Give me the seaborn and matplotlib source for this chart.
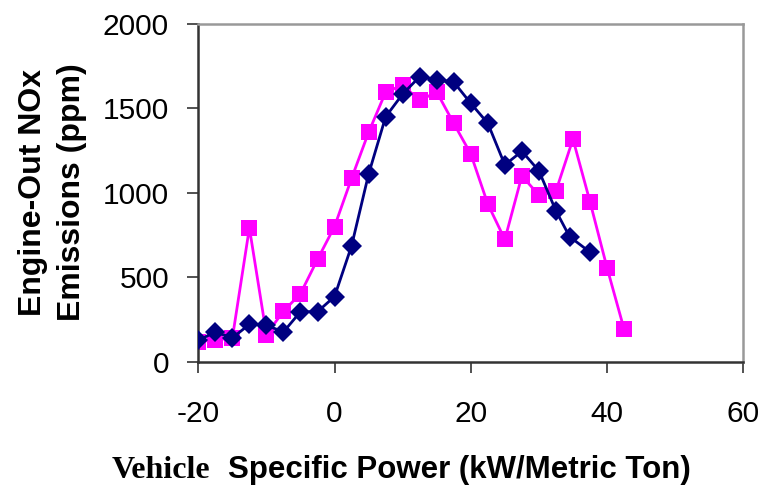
import matplotlib
matplotlib.use("Agg")
import matplotlib.pyplot as plt
import seaborn as sns
import pandas as pd

# Vehicle specific power bins (kW/metric ton) and engine-out NOx (ppm)
vsp_a = [-20, -17.5, -15, -12.5, -10, -7.5, -5, -2.5, 0, 2.5, 5, 7.5, 10,
         12.5, 15, 17.5, 20, 22.5, 25, 27.5, 30, 32.5, 34.5, 37.5]
nox_a = [125, 175, 140, 220, 215, 175, 295, 295, 385, 685, 1110, 1450, 1585,
         1688, 1670, 1656, 1530, 1412, 1165, 1246, 1130, 893, 740, 648]

vsp_b = [-20, -17.5, -15, -12.5, -10, -7.5, -5, -2.5, 0, 2.5, 5, 7.5, 10,
         12.5, 15, 17.5, 20, 22.5, 25, 27.5, 30, 32.5, 35, 37.5, 40, 42.5]
nox_b = [118, 128, 138, 792, 160, 298, 402, 605, 800, 1085, 1358, 1596, 1638,
         1547, 1597, 1411, 1230, 933, 723, 1100, 986, 1010, 1318, 947, 556, 192]

x_ticks = [-20, 0, 20, 40, 60]
y_ticks = [0, 500, 1000, 1500, 2000]

df_a = pd.DataFrame({"vsp": vsp_a, "nox": nox_a})
df_b = pd.DataFrame({"vsp": vsp_b, "nox": nox_b})

sns.set_theme(style="white")
plt.rcParams["font.family"] = ["Liberation Sans", "DejaVu Sans"]
plt.rcParams["axes.unicode_minus"] = False
plt.rcParams["text.color"] = "black"

fig = plt.figure(figsize=(7.65, 4.87), dpi=100)
ax = fig.add_axes([0.2592, 0.2577, 0.9716 - 0.2592, 0.9507 - 0.2577])

sns.lineplot(data=df_b, x="vsp", y="nox", ax=ax, color="#FF00FF", lw=2,
             marker="s", markersize=11, markeredgewidth=0,
             markerfacecolor="#FF00FF", sort=False, zorder=2)
sns.lineplot(data=df_a, x="vsp", y="nox", ax=ax, color="#000080", lw=2,
             marker="D", markersize=10.3, markeredgewidth=0,
             markerfacecolor="#000080", sort=False, zorder=3)

ax.set_xlim(-20, 60)
ax.set_ylim(0, 2000)
ax.set_xticks(x_ticks)
ax.set_yticks(y_ticks)
ax.set_xlabel("")
ax.set_ylabel("")

for side in ("left", "bottom"):
    ax.spines[side].set_color("#333333")
    ax.spines[side].set_linewidth(1.8)
for side in ("top", "right"):
    ax.spines[side].set_color("#999999")
    ax.spines[side].set_linewidth(1.8)
    ax.spines[side].set_visible(True)

ax.tick_params(axis="y", direction="out", length=8, width=1.2,
               color="#333333", pad=13, labelsize=21.5, labelcolor="black",
               left=True)
ax.tick_params(axis="x", direction="out", length=8, width=1.2,
               color="#333333", pad=20, labelsize=21.5, labelcolor="black",
               bottom=True)
ax.grid(False)

# Axis titles
fig.text(0.069, 0.6047, "Engine-Out NOx\nEmissions (ppm)", rotation=90,
         ha="center", va="center", multialignment="center",
         fontsize=23, fontweight="bold", linespacing=1.38, color="black")
fig.text(210 / 765, 1 - 478 / 487, "Vehicle", ha="right", va="baseline",
         fontsize=23, fontweight="bold", color="black",
         family=["Liberation Serif", "DejaVu Serif"])
fig.text(228 / 765, 1 - 478 / 487, "Specific Power (kW/Metric Ton)",
         ha="left", va="baseline", fontsize=22.5, fontweight="bold",
         color="black")

fig.savefig("out.png", dpi=100, facecolor="white")
